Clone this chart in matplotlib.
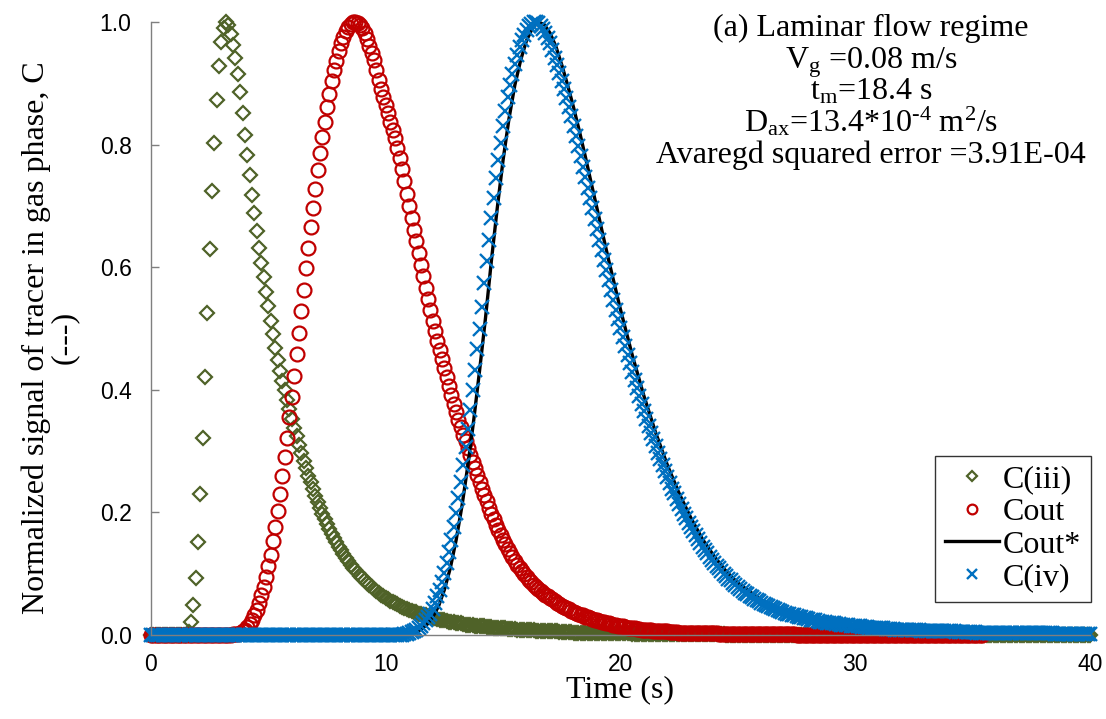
import matplotlib
matplotlib.use("Agg")
import matplotlib.pyplot as plt
from matplotlib.ticker import FormatStrFormatter
import numpy as np

plt.rcParams['font.family'] = ['Liberation Serif', 'DejaVu Serif']
plt.rcParams['mathtext.fontset'] = 'custom'
plt.rcParams['mathtext.rm'] = 'Liberation Serif'
plt.rcParams['mathtext.it'] = 'Liberation Serif:italic'
plt.rcParams['mathtext.default'] = 'regular'

#signals are sampled every 0.1 s, 0 - 40 s
time = np.round(np.arange(401) * 0.1, 1)

#C(iii), one row per second
c_iii = ([0.0] * 10 + [
    0, 0, 0, 0, 0, 0, 0.005, 0.021, 0.049, 0.093,
    0.152, 0.230, 0.321, 0.421, 0.526, 0.630, 0.724, 0.803, 0.873, 0.928,
    0.967, 0.990, 1.000, 0.995, 0.980, 0.962, 0.942, 0.915, 0.885, 0.851,
    0.816, 0.783, 0.750, 0.718, 0.688, 0.659, 0.632, 0.607, 0.584, 0.560,
    0.536, 0.513, 0.491, 0.469, 0.448, 0.430, 0.414, 0.399, 0.383, 0.368,
    0.353, 0.338, 0.324, 0.310, 0.297, 0.284, 0.272, 0.260, 0.249, 0.238,
    0.227, 0.217, 0.207, 0.198, 0.189, 0.181, 0.173, 0.165, 0.158, 0.151,
    0.144, 0.138, 0.132, 0.126, 0.121, 0.115, 0.110, 0.106, 0.101, 0.097,
    0.093, 0.089, 0.085, 0.081, 0.078, 0.075, 0.072, 0.069, 0.066, 0.063,
    0.061, 0.058, 0.056, 0.054, 0.052, 0.050, 0.048, 0.046, 0.044, 0.043,
    0.041, 0.040, 0.038, 0.037, 0.035, 0.034, 0.033, 0.032, 0.030, 0.029,
    0.028, 0.027, 0.026, 0.025, 0.025, 0.024, 0.023, 0.022, 0.021, 0.021,
    0.020, 0.019, 0.019, 0.018, 0.017, 0.017, 0.016, 0.016, 0.015, 0.015,
    0.014, 0.014, 0.014, 0.013, 0.013, 0.013, 0.012, 0.012, 0.012, 0.011,
    0.011, 0.011, 0.010, 0.010, 0.010, 0.010, 0.009, 0.009, 0.009, 0.009,
    0.008, 0.008, 0.008, 0.008, 0.007, 0.007, 0.007, 0.007, 0.007, 0.006,
    0.006, 0.006, 0.006, 0.006, 0.005, 0.005, 0.005, 0.005, 0.005, 0.005,
    0.004, 0.004, 0.004, 0.004, 0.004, 0.004, 0.004, 0.004, 0.004, 0.004,
    0.004, 0.004, 0.003, 0.003, 0.003, 0.003, 0.003, 0.003, 0.003, 0.003,
    0.003, 0.003, 0.003, 0.003, 0.003, 0.002, 0.002, 0.002, 0.002, 0.002,
    0.002, 0.002, 0.002, 0.002, 0.002, 0.002, 0.002, 0.002, 0.002, 0.002,
    0.002, 0.002, 0.002, 0.002, 0.002, 0.001, 0.001, 0.001, 0.001, 0.001,
    0.001, 0.001, 0.001, 0.001, 0.001, 0.001, 0.001, 0.001, 0.001, 0.001,
    0.001, 0.001, 0.001, 0.001, 0.001, 0, 0, 0, 0, 0,
] + [0.0] * 151)

#Cout, recorded up to 35.4 s
cout = ([0.0] * 30 + [
    0, 0, 0, 0, 0, 0.001, 0.001, 0.002, 0.004, 0.006,
    0.009, 0.013, 0.018, 0.024, 0.032, 0.041, 0.052, 0.065, 0.079, 0.095,
    0.112, 0.131, 0.153, 0.177, 0.203, 0.230, 0.259, 0.290, 0.322, 0.355,
    0.389, 0.423, 0.458, 0.493, 0.528, 0.563, 0.598, 0.632, 0.665, 0.697,
    0.728, 0.758, 0.786, 0.812, 0.837, 0.861, 0.883, 0.903, 0.921, 0.937,
    0.952, 0.965, 0.976, 0.985, 0.992, 0.997, 1.000, 1.000, 0.998, 0.995,
    0.990, 0.982, 0.972, 0.961, 0.950, 0.938, 0.922, 0.906, 0.890, 0.877,
    0.864, 0.851, 0.837, 0.824, 0.810, 0.795, 0.778, 0.760, 0.740, 0.720,
    0.700, 0.680, 0.661, 0.642, 0.623, 0.604, 0.585, 0.566, 0.548, 0.530,
    0.512, 0.496, 0.480, 0.465, 0.450, 0.436, 0.421, 0.406, 0.391, 0.377,
    0.363, 0.351, 0.339, 0.327, 0.316, 0.305, 0.294, 0.283, 0.272, 0.261,
    0.250, 0.239, 0.229, 0.218, 0.208, 0.198, 0.189, 0.180, 0.171, 0.163,
    0.155, 0.148, 0.141, 0.134, 0.127, 0.121, 0.115, 0.110, 0.105, 0.099,
    0.094, 0.090, 0.086, 0.082, 0.079, 0.075, 0.072, 0.069, 0.066, 0.063,
    0.060, 0.058, 0.055, 0.053, 0.050, 0.048, 0.046, 0.044, 0.042, 0.040,
    0.038, 0.036, 0.035, 0.033, 0.032, 0.030, 0.029, 0.027, 0.026, 0.025,
    0.024, 0.023, 0.022, 0.021, 0.020, 0.019, 0.018, 0.017, 0.016, 0.015,
    0.014, 0.014, 0.013, 0.012, 0.012, 0.011, 0.011, 0.010, 0.010, 0.009,
    0.009, 0.008, 0.008, 0.008, 0.007, 0.007, 0.007, 0.006, 0.006, 0.006,
    0.006, 0.005, 0.005, 0.005, 0.005, 0.004, 0.004, 0.004, 0.004, 0.004,
    0.003, 0.003, 0.003, 0.003, 0.003, 0.003, 0.003, 0.003, 0.003, 0.003,
    0.003, 0.003, 0.002, 0.002, 0.002, 0.002, 0.002, 0.002, 0.002, 0.002,
    0.002, 0.002, 0.002, 0.002, 0.002, 0.001, 0.001, 0.001, 0.001, 0.001,
    0.001, 0.001, 0.001, 0.001, 0.001, 0.001, 0.001, 0.001, 0.001, 0.001,
    0.001, 0.001, 0.001, 0.001, 0.001, 0, 0, 0, 0, 0,
] + [0.0] * 75)

#C(iv)
c_iv = ([0.0] * 100 + [
    0, 0, 0, 0, 0, 0, 0, 0, 0.001, 0.002,
    0.003, 0.005, 0.007, 0.009, 0.012, 0.015, 0.019, 0.024, 0.029, 0.035,
    0.043, 0.052, 0.063, 0.074, 0.087, 0.101, 0.117, 0.135, 0.155, 0.176,
    0.199, 0.223, 0.249, 0.277, 0.306, 0.336, 0.367, 0.399, 0.432, 0.466,
    0.500, 0.535, 0.575, 0.610, 0.645, 0.680, 0.713, 0.745, 0.775, 0.803,
    0.830, 0.855, 0.877, 0.897, 0.915, 0.931, 0.946, 0.959, 0.970, 0.979,
    0.987, 0.993, 0.997, 1.000, 1.000, 0.998, 0.994, 0.988, 0.982, 0.974,
    0.965, 0.954, 0.942, 0.930, 0.917, 0.904, 0.890, 0.876, 0.861, 0.846,
    0.830, 0.814, 0.798, 0.781, 0.764, 0.747, 0.730, 0.713, 0.696, 0.679,
    0.662, 0.645, 0.628, 0.611, 0.595, 0.579, 0.563, 0.547, 0.531, 0.516,
    0.501, 0.486, 0.471, 0.457, 0.443, 0.429, 0.416, 0.403, 0.390, 0.377,
    0.365, 0.353, 0.341, 0.330, 0.319, 0.308, 0.297, 0.287, 0.277, 0.267,
    0.258, 0.248, 0.239, 0.231, 0.222, 0.214, 0.206, 0.198, 0.191, 0.183,
    0.176, 0.169, 0.163, 0.156, 0.150, 0.144, 0.138, 0.133, 0.128, 0.123,
    0.118, 0.113, 0.109, 0.104, 0.100, 0.096, 0.092, 0.089, 0.085, 0.082,
    0.078, 0.075, 0.072, 0.069, 0.067, 0.064, 0.062, 0.059, 0.057, 0.055,
    0.053, 0.051, 0.049, 0.047, 0.045, 0.044, 0.042, 0.041, 0.039, 0.038,
    0.036, 0.035, 0.034, 0.033, 0.032, 0.031, 0.030, 0.029, 0.028, 0.027,
    0.026, 0.025, 0.024, 0.024, 0.023, 0.022, 0.022, 0.021, 0.020, 0.020,
    0.019, 0.019, 0.018, 0.018, 0.017, 0.017, 0.016, 0.016, 0.015, 0.015,
    0.014, 0.014, 0.014, 0.013, 0.013, 0.013, 0.012, 0.012, 0.012, 0.011,
    0.011, 0.011, 0.011, 0.010, 0.010, 0.010, 0.010, 0.009, 0.009, 0.009,
    0.009, 0.009, 0.008, 0.008, 0.008, 0.008, 0.008, 0.008, 0.007, 0.007,
    0.007, 0.007, 0.007, 0.007, 0.007, 0.006, 0.006, 0.006, 0.006, 0.006,
    0.006, 0.006, 0.006, 0.005, 0.005, 0.005, 0.005, 0.005, 0.005, 0.005,
    0.005, 0.005, 0.004, 0.004, 0.004, 0.004, 0.004, 0.004, 0.004, 0.004,
    0.004, 0.004, 0.004, 0.003, 0.003, 0.003, 0.003, 0.003, 0.003, 0.003,
    0.003, 0.003, 0.003, 0.003, 0.003, 0.003, 0.003, 0.003, 0.003, 0.003,
    0.003, 0.003, 0.003, 0.003, 0.003, 0.002, 0.002, 0.002, 0.002, 0.002,
    0.002, 0.002, 0.002, 0.002, 0.002, 0.002, 0.002, 0.002, 0.002, 0.002,
    0.002,
])

#Cout* (model curve)
cout_star_t = [0, 10.0, 10.5, 11.0, 11.25, 11.5, 11.75, 12.0, 12.25, 12.5, 12.75,
               13.0, 13.25, 13.5, 13.75, 14.0, 14.25, 14.5, 14.75, 15.0, 15.25,
               15.5, 15.75, 16.0, 16.25, 16.5, 16.75, 17.0, 17.25, 17.5, 17.75,
               18.0, 18.25, 18.5, 18.75, 19.0, 19.25, 19.5, 19.75, 20.0, 20.5,
               21.0, 21.5, 22.0, 22.5, 23.0, 23.5, 24.0, 24.5, 25.0, 26.0, 27.0,
               28.0, 29.0, 30.0, 32.0, 34.0, 36.0, 38.0, 40.0]
cout_star = [0, 0, 0, 0.001, 0.004, 0.009, 0.017, 0.029, 0.047, 0.074, 0.109,
             0.155, 0.211, 0.277, 0.351, 0.432, 0.517, 0.610, 0.696, 0.775, 0.842,
             0.897, 0.938, 0.970, 0.990, 1.000, 0.996, 0.982, 0.960, 0.930, 0.897,
             0.861, 0.822, 0.781, 0.738, 0.696, 0.653, 0.611, 0.571, 0.531, 0.457,
             0.390, 0.330, 0.277, 0.231, 0.191, 0.156, 0.128, 0.104, 0.085, 0.057, 0.038,
             0.026, 0.020, 0.014, 0.009, 0.006, 0.004, 0.003, 0.002]

fig = plt.figure(figsize=(11.06, 7.19), dpi=100)
ax = fig.add_axes([0.1365, 0.1168, 0.849, 0.8526])

ax.plot(time, c_iii, linestyle='none', marker='D', ms=7, mfc='none', mec='#4F6228',
        mew=1.6, clip_on=False, label='C(iii)')
ax.plot(time[:len(cout)], cout, linestyle='none', marker='o', ms=10, mfc='none',
        mec='#C00000', mew=1.6, clip_on=False, label='Cout')
ax.plot(cout_star_t, cout_star, color='black', lw=2.4, clip_on=False, label='Cout*')
ax.plot(time, c_iv, linestyle='none', marker='x', ms=9.5, mec='#0070C0', mew=1.7,
        clip_on=False, label='C(iv)')

ax.set_xlim(0, 40)
ax.set_ylim(0, 1.0)
ax.set_xticks([0, 10, 20, 30, 40])
ax.set_yticks([0, 0.2, 0.4, 0.6, 0.8, 1.0])
ax.yaxis.set_major_formatter(FormatStrFormatter('%.1f'))

#only left and bottom axis lines, like excel
ax.spines['top'].set_visible(False)
ax.spines['right'].set_visible(False)
for s in ['left', 'bottom']:
    ax.spines[s].set_color('#7f7f7f')
    ax.spines[s].set_linewidth(1.0)
ax.tick_params(direction='in', length=6, width=1, color='#7f7f7f', labelsize=16.5)
ax.tick_params(axis='y', pad=14)
ax.tick_params(axis='x', pad=13)
for lbl in ax.get_xticklabels() + ax.get_yticklabels():
    lbl.set_fontfamily('Liberation Sans')

fig.text(0.5606, 0.0403, 'Time (s)', fontsize=23, ha='center', va='center')
fig.text(0.0452, 0.531, 'Normalized signal of tracer in gas phase, C\n(---)', fontsize=23,
         rotation=90, ha='center', va='center', multialignment='center', linespacing=0.95)

#text block top right
info = ['(a) Laminar flow regime',
        'V$_g$ =0.08 m/s',
        't$_m$=18.4 s',
        'D$_{ax}$=13.4*10$^{\u20104}$ m$^2$/s',
        'Avaregd squared error =3.91E-04']
baselines = [36, 68, 100, 131, 163]
for line, b in zip(info, baselines):
    fig.text(0.7875, 1 - b / 719.0, line, fontsize=23, ha='center', va='baseline')

leg = ax.legend(loc='lower right', bbox_to_anchor=(0.9862, 0.1631),
                bbox_transform=fig.transFigure, borderaxespad=0, frameon=True,
                fancybox=False, edgecolor='black', fontsize=23, handlelength=1.7,
                handletextpad=0.12, labelspacing=0.1, borderpad=0.3, markerscale=0.7)
leg.get_frame().set_linewidth(1.0)

fig.savefig('out.png', dpi=100)
